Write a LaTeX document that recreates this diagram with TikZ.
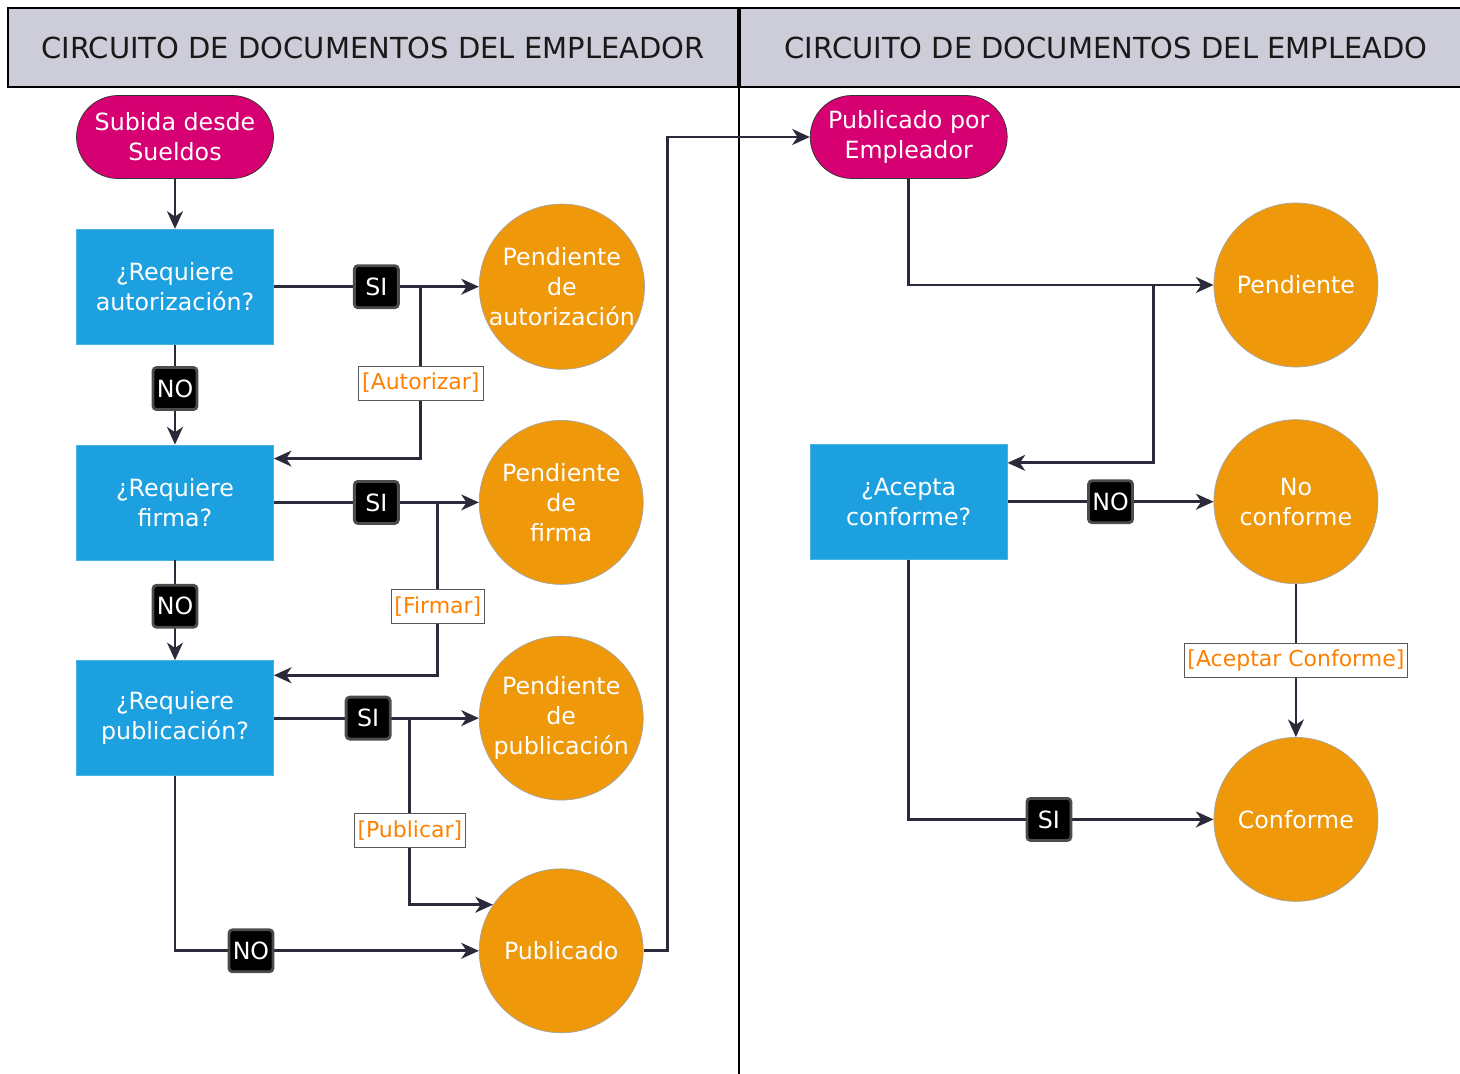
\documentclass[tikz,border=0pt]{standalone}
\usepackage{fontspec}
\setmainfont{DejaVu Sans}
\usepackage{xcolor}
\usetikzlibrary{shapes.geometric, arrows.meta, positioning, calc}

\definecolor{hdrgray}{RGB}{205,205,217}
\definecolor{sueldomag}{RGB}{214,0,114}
\definecolor{askblue}{RGB}{29,160,223}
\definecolor{stateorange}{RGB}{238,152,10}
\definecolor{actorange}{RGB}{255,128,0}
\definecolor{linecol}{RGB}{42,42,58}

\begin{document}
\begin{tikzpicture}[
        node distance=1cm,
        font=\fontsize{13.5}{17}\selectfont,
        header/.style={
            rectangle,
            draw=black,
            line width=1.2pt,
            fill=hdrgray,
            minimum height=1.58cm,
            font=\fontsize{16.5}{20}\selectfont,
            text=black!90
        },
        terminal/.style={
            rectangle,
            draw=black!80,
            thin,
            fill=sueldomag,
            text=white,
            align=center,
            rounded corners=0.83cm,
            minimum width=3.94cm,
            minimum height=1.66cm
        },
        decision/.style={
            rectangle,
            draw=askblue!80!white,
            thin,
            fill=askblue,
            text=white,
            align=center,
            minimum width=3.94cm,
            minimum height=2.3cm
        },
        state/.style={
            circle,
            draw=gray!70,
            thin,
            fill=stateorange,
            text=white,
            align=center,
            inner sep=0pt,
            minimum size=3.28cm
        },
        tag/.style={
            rectangle,
            draw=gray!60!black,
            fill=black,
            text=white,
            rounded corners=2pt,
            inner sep=1pt,
            minimum width=0.88cm,
            minimum height=0.84cm
        },
        action/.style={
            rectangle,
            draw=gray!70!black,
            thin,
            fill=white,
            text=actorange,
            inner sep=2pt,
            minimum height=0.68cm,
            font=\fontsize{12.5}{15}\selectfont
        },
        plain/.style={
            draw=linecol,
            line width=1.6pt
        },
        line/.style={
            plain,
            -{Stealth[length=10pt,width=9pt,inset=3pt]}
        }
    ]
        \useasboundingbox (0,0) rectangle (29.2,-21.48);

        % Headers
        \node [header, minimum width=14.6cm] (hleft) at (7.46,-0.95) {CIRCUITO DE DOCUMENTOS DEL EMPLEADOR};
        \node [header, minimum width=14.64cm, right=0pt of hleft] (hright) {CIRCUITO DE DOCUMENTOS DEL EMPLEADO};
        \draw [plain, draw=black, line width=1.2pt] (hleft.south east) -- ++(0,-20.6);

        % Nodes (empleador)
        \node [terminal] (sueldos) at (3.5,-2.74) {Subida desde\\Sueldos};
        \node [decision, below=1cm of sueldos] (qauth) {¿Requiere\\autorización?};
        \node [decision, below=2cm of qauth] (qfirma) {¿Requiere\\firma?};
        \node [decision, below=2cm of qfirma] (qpub) {¿Requiere\\publicación?};
        \node [state, right=4.1cm of qauth] (pauth) {Pendiente\\de\\autorización};
        \node [state, right=4.1cm of qfirma] (pfirma) {Pendiente\\de\\firma};
        \node [state, right=4.1cm of qpub] (ppub) {Pendiente\\de\\publicación};
        \node [state, below=1.36cm of ppub] (publicado) {Publicado};

        % Nodes (empleado)
        \node [terminal, right=10.72cm of sueldos] (empleador) {Publicado por\\Empleador};
        \node [decision, below=5.3cm of empleador] (acepta) {¿Acepta\\conforme?};
        \node [state, right=4.12cm of acepta] (noconf) {No\\conforme};
        \node [state, above=1.04cm of noconf] (pend) {Pendiente};
        \node [state, below=3.06cm of noconf] (conf) {Conforme};

        % Branch points
        \coordinate [right=2.94cm of qauth.east] (bauth);
        \coordinate [right=3.28cm of qfirma.east] (bfirma);
        \coordinate [right=2.72cm of qpub.east] (bpub);
        \coordinate [left=1.2cm of pend.west] (bpend);

        % Edges (empleador)
        \draw [line] (sueldos) -- (qauth);
        \draw [line] (qauth) -- node[tag] {SI} (pauth);
        \draw [line] (bauth) |- node[pos=0.28, action] {[Autorizar]} ([yshift=-0.28cm]qfirma.north east);
        \draw [line] (qauth) -- node[pos=0.44, tag] {NO} (qfirma);
        \draw [line] (qfirma) -- node[tag] {SI} (pfirma);
        \draw [line] (bfirma) |- node[pos=0.3, action] {[Firmar]} ([yshift=-0.3cm]qpub.north east);
        \draw [line] (qfirma) -- node[pos=0.46, tag] {NO} (qpub);
        \draw [line] (qpub) -- node[pos=0.46, tag] {SI} (ppub);
        \draw [line] (bpub) |- node[pos=0.3, action] {[Publicar]} (publicado.146);
        \draw [line] (qpub) |- node[pos=0.625, tag] {NO} (publicado);
        \draw [line] (publicado.east) -- ++(0.48,0) |- (empleador.west);

        % Edges (empleado)
        \draw [line] (empleador) |- (pend);
        \draw [line] (bpend) |- ([yshift=-0.38cm]acepta.north east);
        \draw [line] (acepta) -- node[tag] {NO} (noconf);
        \draw [line] (noconf) -- node[action] {[Aceptar Conforme]} (conf);
        \draw [line] (acepta) |- node[pos=0.73, tag] {SI} (conf);

    \end{tikzpicture}
\end{document}
